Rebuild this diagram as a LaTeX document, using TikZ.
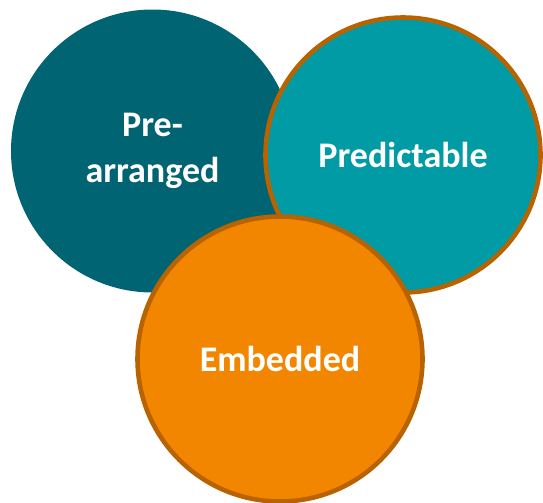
\documentclass[tikz,border=0pt]{standalone}
\usepackage{fontspec}
\setmainfont{Carlito}
\usepackage{tikz}
\usepackage{xcolor}

\definecolor{deepteal}{RGB}{0,100,115}
\definecolor{lightteal}{RGB}{0,155,164}
\definecolor{amber}{RGB}{242,134,0}
\definecolor{rust}{RGB}{184,98,0}

\tikzset{
  blob/.style={circle, inner sep=0pt, align=center, text=white,
    font=\fontsize{20.5}{26}\selectfont\bfseries},
  rim/.style={draw=rust, line width=2.6pt}
}

\begin{document}
\begin{tikzpicture}
  \useasboundingbox (0,0) rectangle (10.86,-10.04);

  % back circle, no rim
  \node[blob, fill=deepteal, minimum size=5.66cm] (prearranged) at (3.05,-3.02) {Pre-\\arranged};

  % right circle
  \node[blob, rim, fill=lightteal, minimum size=5.5cm] (predictable) at (8.06,-3.10) {Predictable};

  % front circle
  \node[blob, rim, fill=amber, minimum size=5.7cm] (embedded) at (5.6,-7.18) {Embedded};

\end{tikzpicture}
\end{document}
